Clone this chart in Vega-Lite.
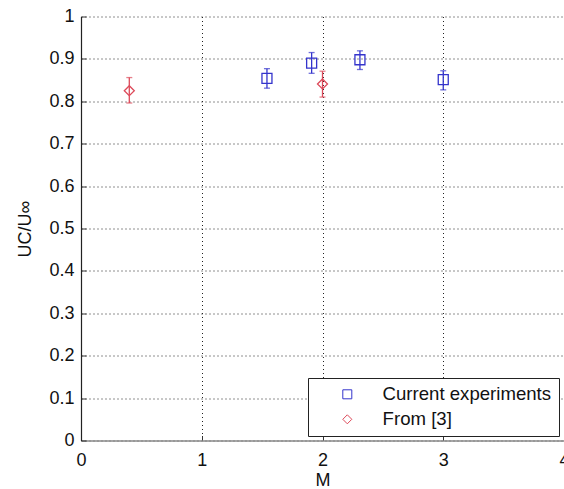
{
  "$schema": "https://vega.github.io/schema/vega-lite/v6.json",
  "autosize": {"type": "none"},
  "width": 483,
  "height": 424,
  "padding": {"left": 81, "top": 16.5, "right": 0, "bottom": 48.5},
  "background": "white",
  "config": {
    "font": "Liberation Sans",
    "view": {"stroke": null},
    "axis": {
      "labelFont": "Liberation Sans",
      "labelFontSize": 18,
      "labelColor": "#111",
      "labelFlush": false,
      "labelOverlap": false,
      "titleFont": "Liberation Sans",
      "titleFontSize": 18,
      "titleFontWeight": "normal",
      "titleColor": "#111",
      "grid": true,
      "gridDash": [1, 3],
      "gridColor": "#222",
      "gridOpacity": 1,
      "tickColor": "#333",
      "tickSize": -5
    }
  },
  "data": {
    "values": [
      {"M": 1.54, "U": 0.854, "lo": 0.831, "hi": 0.877, "series": "Current experiments"},
      {"M": 1.91, "U": 0.890, "lo": 0.866, "hi": 0.915, "series": "Current experiments"},
      {"M": 2.31, "U": 0.898, "lo": 0.875, "hi": 0.919, "series": "Current experiments"},
      {"M": 3.0, "U": 0.851, "lo": 0.827, "hi": 0.872, "series": "Current experiments"},
      {"M": 0.40, "U": 0.825, "lo": 0.796, "hi": 0.856, "series": "From [3]"},
      {"M": 2.0, "U": 0.841, "lo": 0.810, "hi": 0.871, "series": "From [3]"}
    ]
  },
  "resolve": {
    "scale": {"color": "independent", "shape": "independent"},
    "legend": {"color": "independent", "shape": "independent"}
  },
  "encoding": {
    "x": {
      "field": "M",
      "type": "quantitative",
      "scale": {"domain": [0, 4], "nice": false, "zero": false},
      "axis": {
        "title": "M",
        "values": [0, 1, 2, 3, 4],
        "format": "~g",
        "labelPadding": 16,
        "titlePadding": 2,
        "domainColor": "#888",
        "domainWidth": 1.5
      }
    }
  },
  "layer": [
    {
      "layer": [
        {
          "mark": {"type": "rule", "strokeWidth": 1.3},
          "encoding": {
            "y": {
              "field": "lo",
              "type": "quantitative",
              "scale": {"domain": [0, 1], "nice": false},
              "axis": {
                "title": "UC/U∞",
                "values": [0, 0.1, 0.2, 0.3, 0.4, 0.5, 0.6, 0.7, 0.8, 0.9, 1],
                "format": "~g",
                "labelPadding": 12,
                "titlePadding": 14,
                "domainColor": "#222",
                "domainWidth": 1.2
              }
            },
            "y2": {"field": "hi"}
          }
        },
        {
          "mark": {"type": "tick", "orient": "horizontal", "size": 6, "thickness": 1.3},
          "encoding": {"y": {"field": "lo", "type": "quantitative"}}
        },
        {
          "mark": {"type": "tick", "orient": "horizontal", "size": 6, "thickness": 1.3},
          "encoding": {"y": {"field": "hi", "type": "quantitative"}}
        }
      ],
      "encoding": {
        "color": {
          "field": "series",
          "type": "nominal",
          "scale": {"domain": ["Current experiments", "From [3]"], "range": ["#3434cc", "#dd4a5a"]},
          "legend": null
        }
      }
    },
    {
      "mark": {"type": "point", "filled": false, "size": 100, "strokeWidth": 1.3, "opacity": 1},
      "encoding": {
        "y": {"field": "U", "type": "quantitative"},
        "color": {
          "field": "series",
          "type": "nominal",
          "scale": {"domain": ["Current experiments", "From [3]"], "range": ["#3434cc", "#dd4a5a"]},
          "legend": {
            "title": null,
            "orient": "none",
            "legendX": 227,
            "legendY": 361.5,
            "direction": "vertical",
            "fillColor": "white",
            "strokeColor": "#222",
            "padding": 7,
            "rowPadding": 6,
            "labelFont": "Liberation Sans",
            "labelFontSize": 18.6,
            "labelColor": "#111",
            "labelLimit": 300,
            "symbolSize": 81,
            "symbolStrokeWidth": 1,
            "symbolOffset": 23,
            "labelOffset": 26
          }
        },
        "shape": {
          "field": "series",
          "type": "nominal",
          "scale": {"domain": ["Current experiments", "From [3]"], "range": ["square", "diamond"]}
        }
      }
    }
  ]
}
